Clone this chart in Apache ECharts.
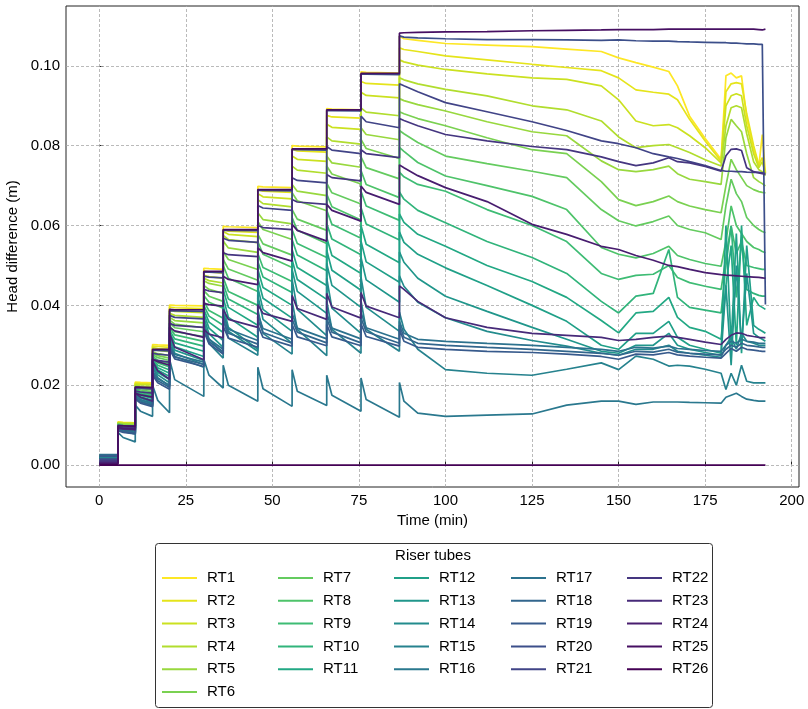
<!DOCTYPE html>
<html>
<head>
<meta charset="utf-8">
<script src="https://cdn.jsdelivr.net/npm/echarts@6/dist/echarts.min.js"></script>
<style>
html,body{margin:0;padding:0;background:#fff;}
#chart{width:808px;height:709px;}
</style>
</head>
<body>
<div id="chart"></div>
<script>
// ---------- DATA ----------
const seriesNames = ['RT1','RT2','RT3','RT4','RT5','RT6','RT7','RT8','RT9','RT10','RT11','RT12','RT13','RT14','RT15','RT16','RT17','RT18','RT19','RT20','RT21','RT22','RT23','RT24','RT25','RT26'];
const xTicks = [0, 25, 50, 75, 100, 125, 150, 175, 200];
const yTicks = [0, 0.02, 0.04, 0.06, 0.08, 0.10];

// times (min) at which the head was raised, and times shortly after each rise
const stepTimes = [0, 5.4, 10.4, 15.4, 20.3, 30.2, 35.8, 45.8, 55.7, 65.7, 75.6, 86.7];
const kneeTimes = [6.9, 11.9, 16.9, 21.8, 31.7, 37.3, 47.3, 57.2, 67.2, 77.1];
const tailTimes = [86.7, 88, 92, 100, 112, 125, 135, 145, 150, 155, 160, 164.5, 167, 170.5, 175, 179.6, 181, 182.5, 184, 185.5, 187, 189, 190.5, 191.5, 192.4];

// head difference during the first level (0-5.4 min)
const base = [.0024,.0024,.0023,.0023,.0022,.0022,.0021,.0021,.0020,.0020,.0019,.0019,.0018,.0018,.0017,.0008,.0026,.0024,.0022,.0015,.0012,.0010,.0006,.0004,.0002,0];

// per level 1..10: value after rise, value shortly after, value before next rise
const stepsRT1 = [.0108,.0107,.0106,.0208,.0207,.0206,.0302,.0301,.0300,.0401,.0400,.0399,.0493,.0492,.0490,.0598,.0597,.0595,.0698,.0697,.0695,.0800,.0799,.0797,.0893,.0892,.0890,.0985,.0984,.0982];
const stepsRT2 = [.0107,.0106,.0105,.0205,.0204,.0203,.0298,.0297,.0295,.0396,.0394,.0392,.0486,.0484,.0481,.0590,.0586,.0583,.0690,.0686,.0683,.0791,.0787,.0784,.0876,.0872,.0869,.0961,.0956,.0952];
const stepsRT3 = [.0106,.0105,.0105,.0203,.0202,.0201,.0294,.0292,.0290,.0388,.0385,.0382,.0475,.0472,.0468,.0585,.0578,.0572,.0680,.0672,.0667,.0774,.0766,.0761,.0854,.0846,.0841,.0934,.0926,.0920];
const stepsRT4 = [.0105,.0104,.0103,.0200,.0198,.0197,.0290,.0287,.0284,.0380,.0375,.0370,.0468,.0462,.0456,.0575,.0565,.0557,.0665,.0655,.0647,.0749,.0739,.0731,.0822,.0812,.0804,.0895,.0884,.0875];
const stepsRT5 = [.0104,.0102,.0100,.0198,.0194,.0191,.0284,.0279,.0274,.0370,.0362,.0356,.0462,.0455,.0448,.0561,.0544,.0533,.0632,.0615,.0604,.0703,.0686,.0675,.0774,.0757,.0746,.0845,.0828,.0815];
const stepsRT6 = [.0103,.0100,.0098,.0196,.0192,.0188,.0281,.0274,.0268,.0363,.0353,.0344,.0450,.0440,.0430,.0535,.0515,.0490,.0610,.0590,.0565,.0682,.0662,.0637,.0749,.0729,.0704,.0816,.0793,.0768];
const stepsRT7 = [.0102,.0099,.0096,.0194,.0188,.0184,.0277,.0269,.0262,.0356,.0344,.0334,.0437,.0423,.0410,.0515,.0491,.0463,.0578,.0554,.0526,.0640,.0616,.0588,.0706,.0682,.0654,.0772,.0745,.0717];
const stepsRT8 = [.0100,.0097,.0094,.0191,.0184,.0180,.0273,.0262,.0254,.0349,.0334,.0322,.0425,.0408,.0393,.0500,.0468,.0435,.0560,.0528,.0495,.0620,.0588,.0555,.0679,.0647,.0614,.0738,.0703,.0670];
const stepsRT9 = [.0099,.0095,.0092,.0189,.0182,.0176,.0269,.0256,.0246,.0345,.0326,.0310,.0410,.0387,.0368,.0470,.0435,.0400,.0530,.0495,.0460,.0590,.0555,.0520,.0638,.0603,.0568,.0686,.0649,.0613];
const stepsRT10 = [.0098,.0094,.0090,.0187,.0179,.0172,.0265,.0250,.0238,.0338,.0316,.0298,.0400,.0373,.0350,.0455,.0416,.0377,.0510,.0471,.0432,.0565,.0526,.0487,.0605,.0566,.0527,.0645,.0604,.0564];
const stepsRT11 = [.0097,.0092,.0087,.0185,.0175,.0167,.0262,.0244,.0230,.0332,.0306,.0285,.0390,.0358,.0332,.0440,.0395,.0350,.0490,.0445,.0400,.0540,.0495,.0450,.0570,.0525,.0480,.0600,.0553,.0507];
const stepsRT12 = [.0096,.0090,.0085,.0183,.0171,.0162,.0258,.0238,.0222,.0326,.0296,.0272,.0380,.0343,.0312,.0420,.0370,.0320,.0468,.0418,.0368,.0515,.0465,.0415,.0538,.0488,.0438,.0561,.0509,.0458];
const stepsRT13 = [.0095,.0088,.0083,.0181,.0168,.0157,.0254,.0232,.0214,.0320,.0288,.0262,.0370,.0329,.0295,.0400,.0345,.0290,.0445,.0390,.0335,.0490,.0435,.0380,.0505,.0450,.0395,.0520,.0464,.0408];
const stepsRT14 = [.0094,.0086,.0080,.0179,.0164,.0152,.0250,.0226,.0206,.0314,.0280,.0252,.0360,.0316,.0280,.0385,.0335,.0285,.0425,.0365,.0305,.0465,.0390,.0324,.0468,.0393,.0330,.0471,.0395,.0335];
const stepsRT15 = [.0092,.0084,.0078,.0176,.0161,.0148,.0245,.0219,.0198,.0305,.0272,.0245,.0350,.0305,.0268,.0370,.0318,.0275,.0390,.0330,.0278,.0411,.0340,.0274,.0411,.0340,.0280,.0411,.0340,.0285];
const stepsRT16 = [.0082,.0069,.0058,.0150,.0135,.0122,.0200,.0162,.0131,.0265,.0214,.0172,.0265,.0225,.0193,.0250,.0200,.0160,.0245,.0191,.0147,.0239,.0185,.0149,.0225,.0175,.0135,.0218,.0164,.0120];
const stepsRT17 = [.0090,.0086,.0082,.0172,.0163,.0155,.0235,.0216,.0200,.0300,.0277,.0258,.0345,.0315,.0290,.0375,.0340,.0312,.0378,.0342,.0315,.0380,.0343,.0316,.0380,.0343,.0316,.0382,.0344,.0315];
const stepsRT18 = [.0088,.0084,.0080,.0168,.0158,.0150,.0230,.0211,.0195,.0295,.0271,.0252,.0340,.0309,.0284,.0362,.0330,.0303,.0365,.0332,.0305,.0366,.0333,.0306,.0367,.0333,.0306,.0368,.0334,.0305];
const stepsRT19 = [.0086,.0082,.0078,.0165,.0155,.0146,.0225,.0206,.0190,.0290,.0266,.0247,.0335,.0304,.0278,.0348,.0318,.0295,.0350,.0320,.0298,.0352,.0321,.0299,.0352,.0321,.0299,.0354,.0322,.0298];
const stepsRT20 = [.0093,.0093,.0092,.0192,.0192,.0191,.0287,.0287,.0286,.0386,.0386,.0385,.0483,.0483,.0482,.0588,.0588,.0587,.0688,.0688,.0687,.0790,.0790,.0789,.0888,.0888,.0887,.0979,.0979,.0978];
const stepsRT21 = [.0100,.0099,.0098,.0195,.0194,.0192,.0280,.0278,.0275,.0375,.0370,.0366,.0473,.0471,.0469,.0568,.0563,.0558,.0650,.0644,.0638,.0720,.0713,.0707,.0798,.0789,.0780,.0874,.0860,.0845];
const stepsRT22 = [.0095,.0094,.0093,.0185,.0183,.0180,.0265,.0262,.0258,.0355,.0350,.0345,.0440,.0436,.0432,.0532,.0527,.0522,.0600,.0595,.0590,.0665,.0659,.0653,.0728,.0720,.0712,.0790,.0780,.0770];
const stepsRT23 = [.0092,.0090,.0088,.0180,.0170,.0160,.0260,.0236,.0215,.0331,.0295,.0264,.0340,.0328,.0319,.0390,.0365,.0345,.0402,.0380,.0360,.0425,.0392,.0365,.0430,.0396,.0368,.0432,.0398,.0369];
const stepsRT24 = [.0094,.0092,.0090,.0180,.0176,.0170,.0265,.0259,.0250,.0345,.0336,.0320,.0405,.0402,.0398,.0473,.0465,.0452,.0544,.0532,.0511,.0603,.0588,.0561,.0653,.0638,.0611,.0699,.0683,.0653];
const stepsRT25 = [.0098,.0098,.0097,.0195,.0195,.0194,.0290,.0290,.0290,.0390,.0389,.0389,.0485,.0485,.0485,.0590,.0590,.0590,.0690,.0690,.0690,.0792,.0792,.0792,.0890,.0890,.0890,.0981,.0981,.0981];
const stepsRT26 = [0,0,0,0,0,0,0,0,0,0,0,0,0,0,0,0,0,0,0,0,0,0,0,0,0,0,0,0,0,0];

// last level (86.7 min to end), values at tailTimes
const tailRT1 = [.1075,.1068,.1064,.1056,.1052,.1048,.1042,.1036,.1020,.1008,.0997,.0986,.0950,.0874,.0818,.0766,.0975,.0982,.0970,.0975,.0870,.0790,.0749,.0828,.0733];
const tailRT2 = [.1045,.1041,.1036,.1025,.1015,.1004,.0996,.0988,.0970,.0940,.0934,.0929,.0915,.0866,.0812,.0761,.0935,.0955,.0958,.0955,.0880,.0800,.0752,.0770,.0732];
const tailRT3 = [.1015,.1010,.1002,.0991,.0980,.0970,.0966,.0950,.0915,.0862,.0850,.0853,.0845,.0825,.0795,.0757,.0900,.0925,.0930,.0925,.0850,.0780,.0745,.0760,.0730];
const tailRT4 = [.0970,.0965,.0955,.0941,.0925,.0900,.0890,.0862,.0822,.0795,.0800,.0803,.0795,.0783,.0765,.0749,.0850,.0895,.0900,.0895,.0830,.0760,.0740,.0735,.0725];
const tailRT5 = [.0918,.0913,.0903,.0887,.0860,.0835,.0825,.0762,.0740,.0735,.0740,.0749,.0730,.0716,.0710,.0703,.0820,.0866,.0850,.0835,.0780,.0720,.0710,.0705,.0699];
const tailRT6 = [.0885,.0880,.0868,.0850,.0820,.0790,.0780,.0710,.0665,.0650,.0660,.0674,.0660,.0649,.0640,.0632,.0700,.0766,.0740,.0720,.0700,.0690,.0685,.0683,.0682];
const tailRT7 = [.0838,.0830,.0808,.0774,.0755,.0736,.0720,.0640,.0612,.0599,.0610,.0624,.0600,.0590,.0582,.0565,.0650,.0716,.0680,.0660,.0620,.0600,.0590,.0585,.0582];
const tailRT8 = [.0796,.0786,.0758,.0724,.0700,.0673,.0640,.0545,.0528,.0519,.0530,.0548,.0525,.0515,.0505,.0498,.0560,.0649,.0600,.0580,.0560,.0545,.0540,.0535,.0532];
const tailRT9 = [.0734,.0722,.0703,.0686,.0640,.0600,.0560,.0480,.0465,.0475,.0478,.0500,.0470,.0457,.0448,.0440,.0520,.0599,.0530,.0560,.0500,.0495,.0492,.0490,.0490];
const tailRT10 = [.0684,.0666,.0638,.0607,.0560,.0520,.0480,.0410,.0381,.0423,.0430,.0540,.0420,.0395,.0388,.0381,.0500,.0599,.0420,.0560,.0440,.0430,.0425,.0423,.0423];
const tailRT11 = [.0629,.0608,.0578,.0548,.0500,.0460,.0420,.0362,.0331,.0381,.0385,.0420,.0370,.0345,.0335,.0315,.0450,.0550,.0300,.0600,.0350,.0420,.0400,.0395,.0390];
const tailRT12 = [.0584,.0558,.0528,.0494,.0450,.0400,.0360,.0300,.0290,.0330,.0330,.0360,.0320,.0300,.0290,.0280,.0600,.0300,.0580,.0280,.0550,.0350,.0340,.0335,.0330];
const tailRT13 = [.0534,.0508,.0468,.0423,.0385,.0345,.0315,.0285,.0280,.0300,.0300,.0330,.0300,.0290,.0282,.0275,.0450,.0250,.0500,.0300,.0480,.0330,.0320,.0315,.0310];
const tailRT14 = [.0474,.0448,.0408,.0369,.0335,.0312,.0298,.0280,.0275,.0290,.0290,.0300,.0285,.0280,.0275,.0270,.0300,.0320,.0290,.0330,.0310,.0305,.0300,.0300,.0300];
const tailRT15 = [.0383,.0340,.0290,.0239,.0230,.0225,.0240,.0256,.0239,.0273,.0265,.0248,.0250,.0248,.0240,.0230,.0189,.0230,.0200,.0250,.0210,.0206,.0206,.0206,.0206];
const tailRT16 = [.0207,.0160,.0130,.0122,.0125,.0128,.0150,.0160,.0160,.0152,.0158,.0158,.0158,.0157,.0156,.0155,.0170,.0175,.0180,.0172,.0165,.0162,.0160,.0160,.0160];
const tailRT17 = [.0360,.0330,.0315,.0310,.0305,.0300,.0295,.0290,.0285,.0295,.0293,.0298,.0292,.0290,.0287,.0285,.0300,.0310,.0305,.0315,.0310,.0308,.0305,.0305,.0305];
const tailRT18 = [.0350,.0320,.0305,.0300,.0295,.0290,.0285,.0280,.0275,.0285,.0283,.0290,.0283,.0280,.0278,.0276,.0290,.0300,.0295,.0305,.0300,.0298,.0296,.0295,.0295];
const tailRT19 = [.0340,.0310,.0295,.0290,.0285,.0282,.0278,.0272,.0265,.0278,.0276,.0282,.0276,.0273,.0270,.0268,.0280,.0292,.0285,.0295,.0290,.0288,.0286,.0285,.0285];
const tailRT20 = [.1075,.1072,.1070,.1068,.1066,.1066,.1065,.1064,.1065,.1063,.1062,.1062,.1061,.1060,.1059,.1058,.1058,.1057,.1057,.1056,.1055,.1055,.1054,.1054,.0402];
const tailRT21 = [.0955,.0950,.0935,.0908,.0885,.0860,.0838,.0812,.0805,.0795,.0780,.0772,.0768,.0760,.0750,.0738,.0736,.0736,.0735,.0735,.0734,.0733,.0733,.0732,.0730];
const tailRT22 = [.0868,.0863,.0850,.0828,.0812,.0798,.0790,.0772,.0760,.0750,.0757,.0770,.0760,.0757,.0748,.0736,.0775,.0791,.0792,.0788,.0745,.0735,.0732,.0730,.0728];
const tailRT23 = [.0449,.0440,.0410,.0369,.0345,.0330,.0325,.0320,.0312,.0315,.0320,.0323,.0320,.0315,.0308,.0302,.0315,.0325,.0331,.0330,.0325,.0322,.0320,.0319,.0319];
const tailRT24 = [.0752,.0745,.0725,.0695,.0660,.0603,.0578,.0548,.0540,.0525,.0513,.0500,.0497,.0490,.0482,.0477,.0476,.0475,.0474,.0473,.0472,.0471,.0470,.0469,.0468];
const tailRT25 = [.1082,.1083,.1084,.1085,.1086,.1088,.1089,.1090,.1091,.1091,.1091,.1092,.1092,.1092,.1092,.1092,.1092,.1092,.1092,.1092,.1092,.1092,.1091,.1090,.1092];
const tailRT26 = [0,0,0,0,0,0,0,0,0,0,0,0,0,0,0,0,0,0,0,0,0,0,0,0,0];

const stepData = [stepsRT1,stepsRT2,stepsRT3,stepsRT4,stepsRT5,stepsRT6,stepsRT7,stepsRT8,stepsRT9,stepsRT10,stepsRT11,stepsRT12,stepsRT13,stepsRT14,stepsRT15,stepsRT16,stepsRT17,stepsRT18,stepsRT19,stepsRT20,stepsRT21,stepsRT22,stepsRT23,stepsRT24,stepsRT25,stepsRT26];
const tailData = [tailRT1,tailRT2,tailRT3,tailRT4,tailRT5,tailRT6,tailRT7,tailRT8,tailRT9,tailRT10,tailRT11,tailRT12,tailRT13,tailRT14,tailRT15,tailRT16,tailRT17,tailRT18,tailRT19,tailRT20,tailRT21,tailRT22,tailRT23,tailRT24,tailRT25,tailRT26];

// ---------- STYLE ----------
const FONT = '"Liberation Sans", Arial, sans-serif';
const viridisKeys = ['#440154','#471365','#482475','#46327e','#414487','#3b528b','#355f8d','#2d708e','#2a788e','#25848e','#21918c','#1f9e89','#22a884','#35b779','#44bf70','#5ec962','#7ad151','#a0da39','#bddf26','#dfe318','#fde725'];
function hex2rgb(h){return [parseInt(h.substr(1,2),16),parseInt(h.substr(3,2),16),parseInt(h.substr(5,2),16)];}
function viridis(t){
  const p = t*(viridisKeys.length-1);
  const i = Math.min(Math.floor(p), viridisKeys.length-2);
  const f = p - i;
  const a = hex2rgb(viridisKeys[i]), b = hex2rgb(viridisKeys[i+1]);
  const c = a.map((v,j)=>Math.round(v+(b[j]-v)*f));
  return 'rgb('+c.join(',')+')';
}

function buildPoints(i){
  const s = stepData[i], tl = tailData[i];
  const pts = [[stepTimes[0], base[i]], [stepTimes[1], base[i]]];
  for (let k = 0; k < kneeTimes.length; k++){
    pts.push([stepTimes[k+1], s[3*k]]);
    pts.push([kneeTimes[k], s[3*k+1]]);
    pts.push([stepTimes[k+2], s[3*k+2]]);
  }
  for (let j = 0; j < tailTimes.length; j++) pts.push([tailTimes[j], tl[j]]);
  return pts;
}

const series = [];
// grid lines (below data)
series.push({
  type:'line', data:[], silent:true, z:1,
  markLine:{
    silent:true, symbol:'none', z:1, animation:false,
    label:{show:false},
    lineStyle:{color:'#a8a8a8', type:[3,2], width:0.8},
    data: xTicks.map(v=>({xAxis:v})).concat(yTicks.map(v=>({yAxis:v})))
  }
});
seriesNames.forEach((name,i)=>{
  series.push({
    name:name, type:'line', data:buildPoints(i),
    showSymbol:false, symbol:'none', clip:true, z:2,
    color: viridis(1 - i/(seriesNames.length-1)),
    lineStyle:{width:1.7},
    emphasis:{disabled:true},
    animation:false
  });
});

const colX = [162, 278, 394, 511, 627];
const colItems = [seriesNames.slice(0,6), seriesNames.slice(6,11), seriesNames.slice(11,16), seriesNames.slice(16,21), seriesNames.slice(21,26)];
const legends = colItems.map((items,c)=>({
  orient:'vertical', left:colX[c], top:569, data:items,
  icon:'rect', itemWidth:35, itemHeight:2, itemGap:4.8,
  selectedMode:false,
  textStyle:{fontFamily:FONT, fontSize:15, color:'#000', lineHeight:18, padding:[0,0,0,5]},
  padding:0
}));

const option = {
  backgroundColor:'#fff',
  animation:false,
  textStyle:{fontFamily:FONT},
  grid:{left:66, right:9, top:6, bottom:222, show:true, borderColor:'#222', borderWidth:1, backgroundColor:'transparent', containLabel:false, outerBoundsMode:'none'},
  xAxis:{
    type:'value', min:-9.6, max:202.1,
    name:'Time (min)', nameLocation:'middle', nameGap:24,
    nameTextStyle:{fontFamily:FONT, fontSize:15, color:'#000'},
    axisLine:{show:false},
    axisTick:{show:true, inside:true, length:4, customValues:xTicks, lineStyle:{color:'#222'}},
    axisLabel:{show:true, customValues:xTicks, margin:6, fontFamily:FONT, fontSize:15, color:'#000', formatter:v=>String(v)},
    splitLine:{show:false}
  },
  yAxis:{
    type:'value', min:-0.0055, max:0.115,
    name:'Head difference (m)', nameLocation:'middle', nameGap:35, nameRotate:90,
    nameTextStyle:{fontFamily:FONT, fontSize:15, color:'#000'},
    axisLine:{show:false},
    axisTick:{show:true, inside:true, length:4, customValues:yTicks, lineStyle:{color:'#222'}},
    axisLabel:{show:true, customValues:yTicks, margin:6, fontFamily:FONT, fontSize:15, color:'#000', formatter:v=>v.toFixed(2)},
    splitLine:{show:false}
  },
  legend: legends,
  graphic:[
    {type:'rect', z:0, shape:{x:155.5, y:543.5, width:557, height:164, r:3}, style:{fill:'#fff', stroke:'#333', lineWidth:1}},
    {type:'text', z:5, x:433, y:556, style:{text:'Riser tubes', fontFamily:FONT, fontSize:15, fill:'#000', align:'center', verticalAlign:'middle'}}
  ],
  series: series
};

const chart = echarts.init(document.getElementById('chart'), null, {renderer:'canvas'});
chart.setOption(option);
</script>
</body>
</html>
